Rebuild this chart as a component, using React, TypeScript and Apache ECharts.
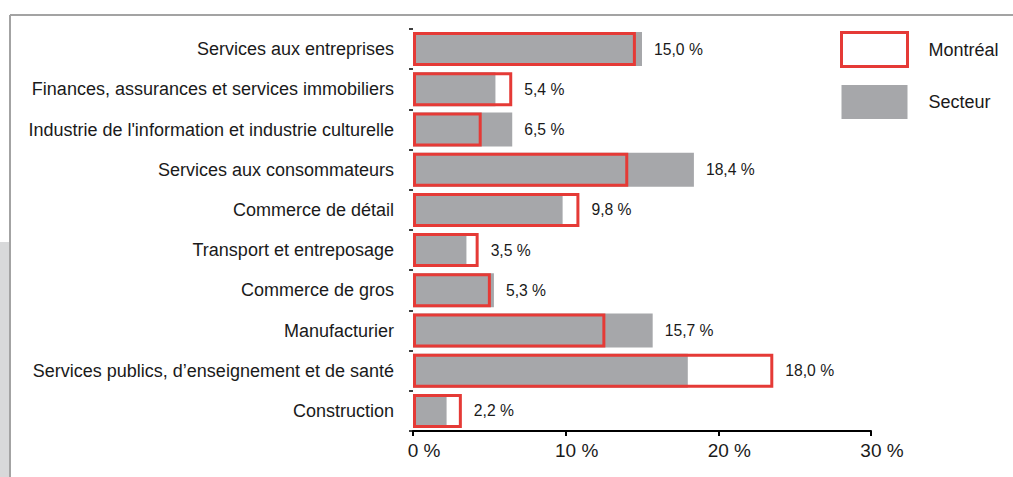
import React, { useEffect, useRef } from "react";
import * as echarts from "echarts";

const categories = [
  "Services aux entreprises",
  "Finances, assurances et services immobiliers",
  "Industrie de l'information et industrie culturelle",
  "Services aux consommateurs",
  "Commerce de détail",
  "Transport et entreposage",
  "Commerce de gros",
  "Manufacturier",
  "Services publics, d\u2019enseignement et de santé",
  "Construction",
];
const montreal = [14.6, 6.5, 4.5, 14.1, 10.9, 4.3, 5.1, 12.6, 23.6, 3.2];
const secteur = [15.0, 5.4, 6.5, 18.4, 9.8, 3.5, 5.3, 15.7, 18.0, 2.2];
const xTicks = { min: 0, max: 30, interval: 10 };

const RED = "#e53a36";
const GRAY = "#a6a7aa";
const TXT = "#1a1a1a";
const FONT = "'Liberation Sans', Arial, sans-serif";

export default function App() {
  const ref = useRef<HTMLDivElement>(null);
  useEffect(() => {
    if (!ref.current) return;
    const chart = echarts.init(ref.current, undefined, { renderer: "svg" });
    const labelBase = montreal.map((m, i) => Math.max(m, secteur[i]));
    chart.setOption({
      animation: false,
      textStyle: { fontFamily: FONT },
      graphic: [
        { type: "rect", shape: { x: 0, y: 242, width: 9, height: 235 }, style: { fill: "#d8d9da" }, silent: true },
        { type: "line", shape: { x1: 10, y1: 15, x2: 1013, y2: 15 }, style: { stroke: "#a3a3a3", lineWidth: 2 }, silent: true },
        { type: "line", shape: { x1: 10, y1: 15, x2: 10, y2: 477 }, style: { stroke: "#a3a3a3", lineWidth: 2 }, silent: true },
      ],
      legend: {
        orient: "vertical",
        left: 840,
        top: 31,
        padding: 0,
        itemWidth: 66,
        itemHeight: 34,
        itemGap: 17,
        icon: "rect",
        selectedMode: false,
        textStyle: { fontSize: 18, color: TXT, fontFamily: FONT, padding: [0, 0, 0, 16] },
        data: [
          { name: "Montréal", itemStyle: { color: "rgba(0,0,0,0)", borderColor: RED, borderWidth: 3 } },
          { name: "Secteur", itemStyle: { color: GRAY } },
        ],
      },
      grid: { left: 413, right: 142, top: 29, bottom: 46, containLabel: false },
      xAxis: {
        type: "value",
        min: xTicks.min,
        max: xTicks.max,
        interval: xTicks.interval,
        splitLine: { show: false },
        axisLine: { show: true, lineStyle: { color: "#000", width: 2 } },
        axisTick: { show: true, length: 5, lineStyle: { color: "#000", width: 2 } },
        axisLabel: {
          formatter: "{value} %",
          fontSize: 19,
          color: TXT,
          margin: 10,
          fontFamily: FONT,
          align: "center",
          padding: [0, 0, 0, 22],
        },
      },
      yAxis: {
        type: "category",
        inverse: true,
        data: categories,
        axisLine: { show: false },
        axisTick: { show: true, length: 4, inside: false, lineStyle: { color: "#000", width: 1.5 } },
        axisLabel: { fontSize: 18, color: TXT, margin: 19, fontFamily: FONT },
      },
      series: [
        {
          name: "Secteur",
          type: "bar",
          data: secteur,
          barWidth: 34,
          barGap: "-100%",
          itemStyle: { color: GRAY },
          z: 2,
        },
        {
          name: "Montréal",
          type: "bar",
          data: montreal,
          barWidth: 34,
          barGap: "-100%",
          itemStyle: { color: "rgba(0,0,0,0)", borderColor: RED, borderWidth: 3 },
          z: 3,
        },
        {
          name: "labels",
          type: "bar",
          data: labelBase,
          barWidth: 34,
          barGap: "-100%",
          itemStyle: { color: "rgba(0,0,0,0)" },
          silent: true,
          z: 4,
          label: {
            show: true,
            position: "right",
            distance: 12,
            fontSize: 15.7,
            color: TXT,
            fontFamily: FONT,
            formatter: (p: any) => secteur[p.dataIndex].toFixed(1).replace(".", ",") + " %",
          },
        },
      ],
    });
    return () => chart.dispose();
  }, []);
  return (
    <div
      ref={ref}
      style={{ position: "absolute", left: 0, top: 0, width: 1013, height: 477, background: "#fff" }}
    />
  );
}
